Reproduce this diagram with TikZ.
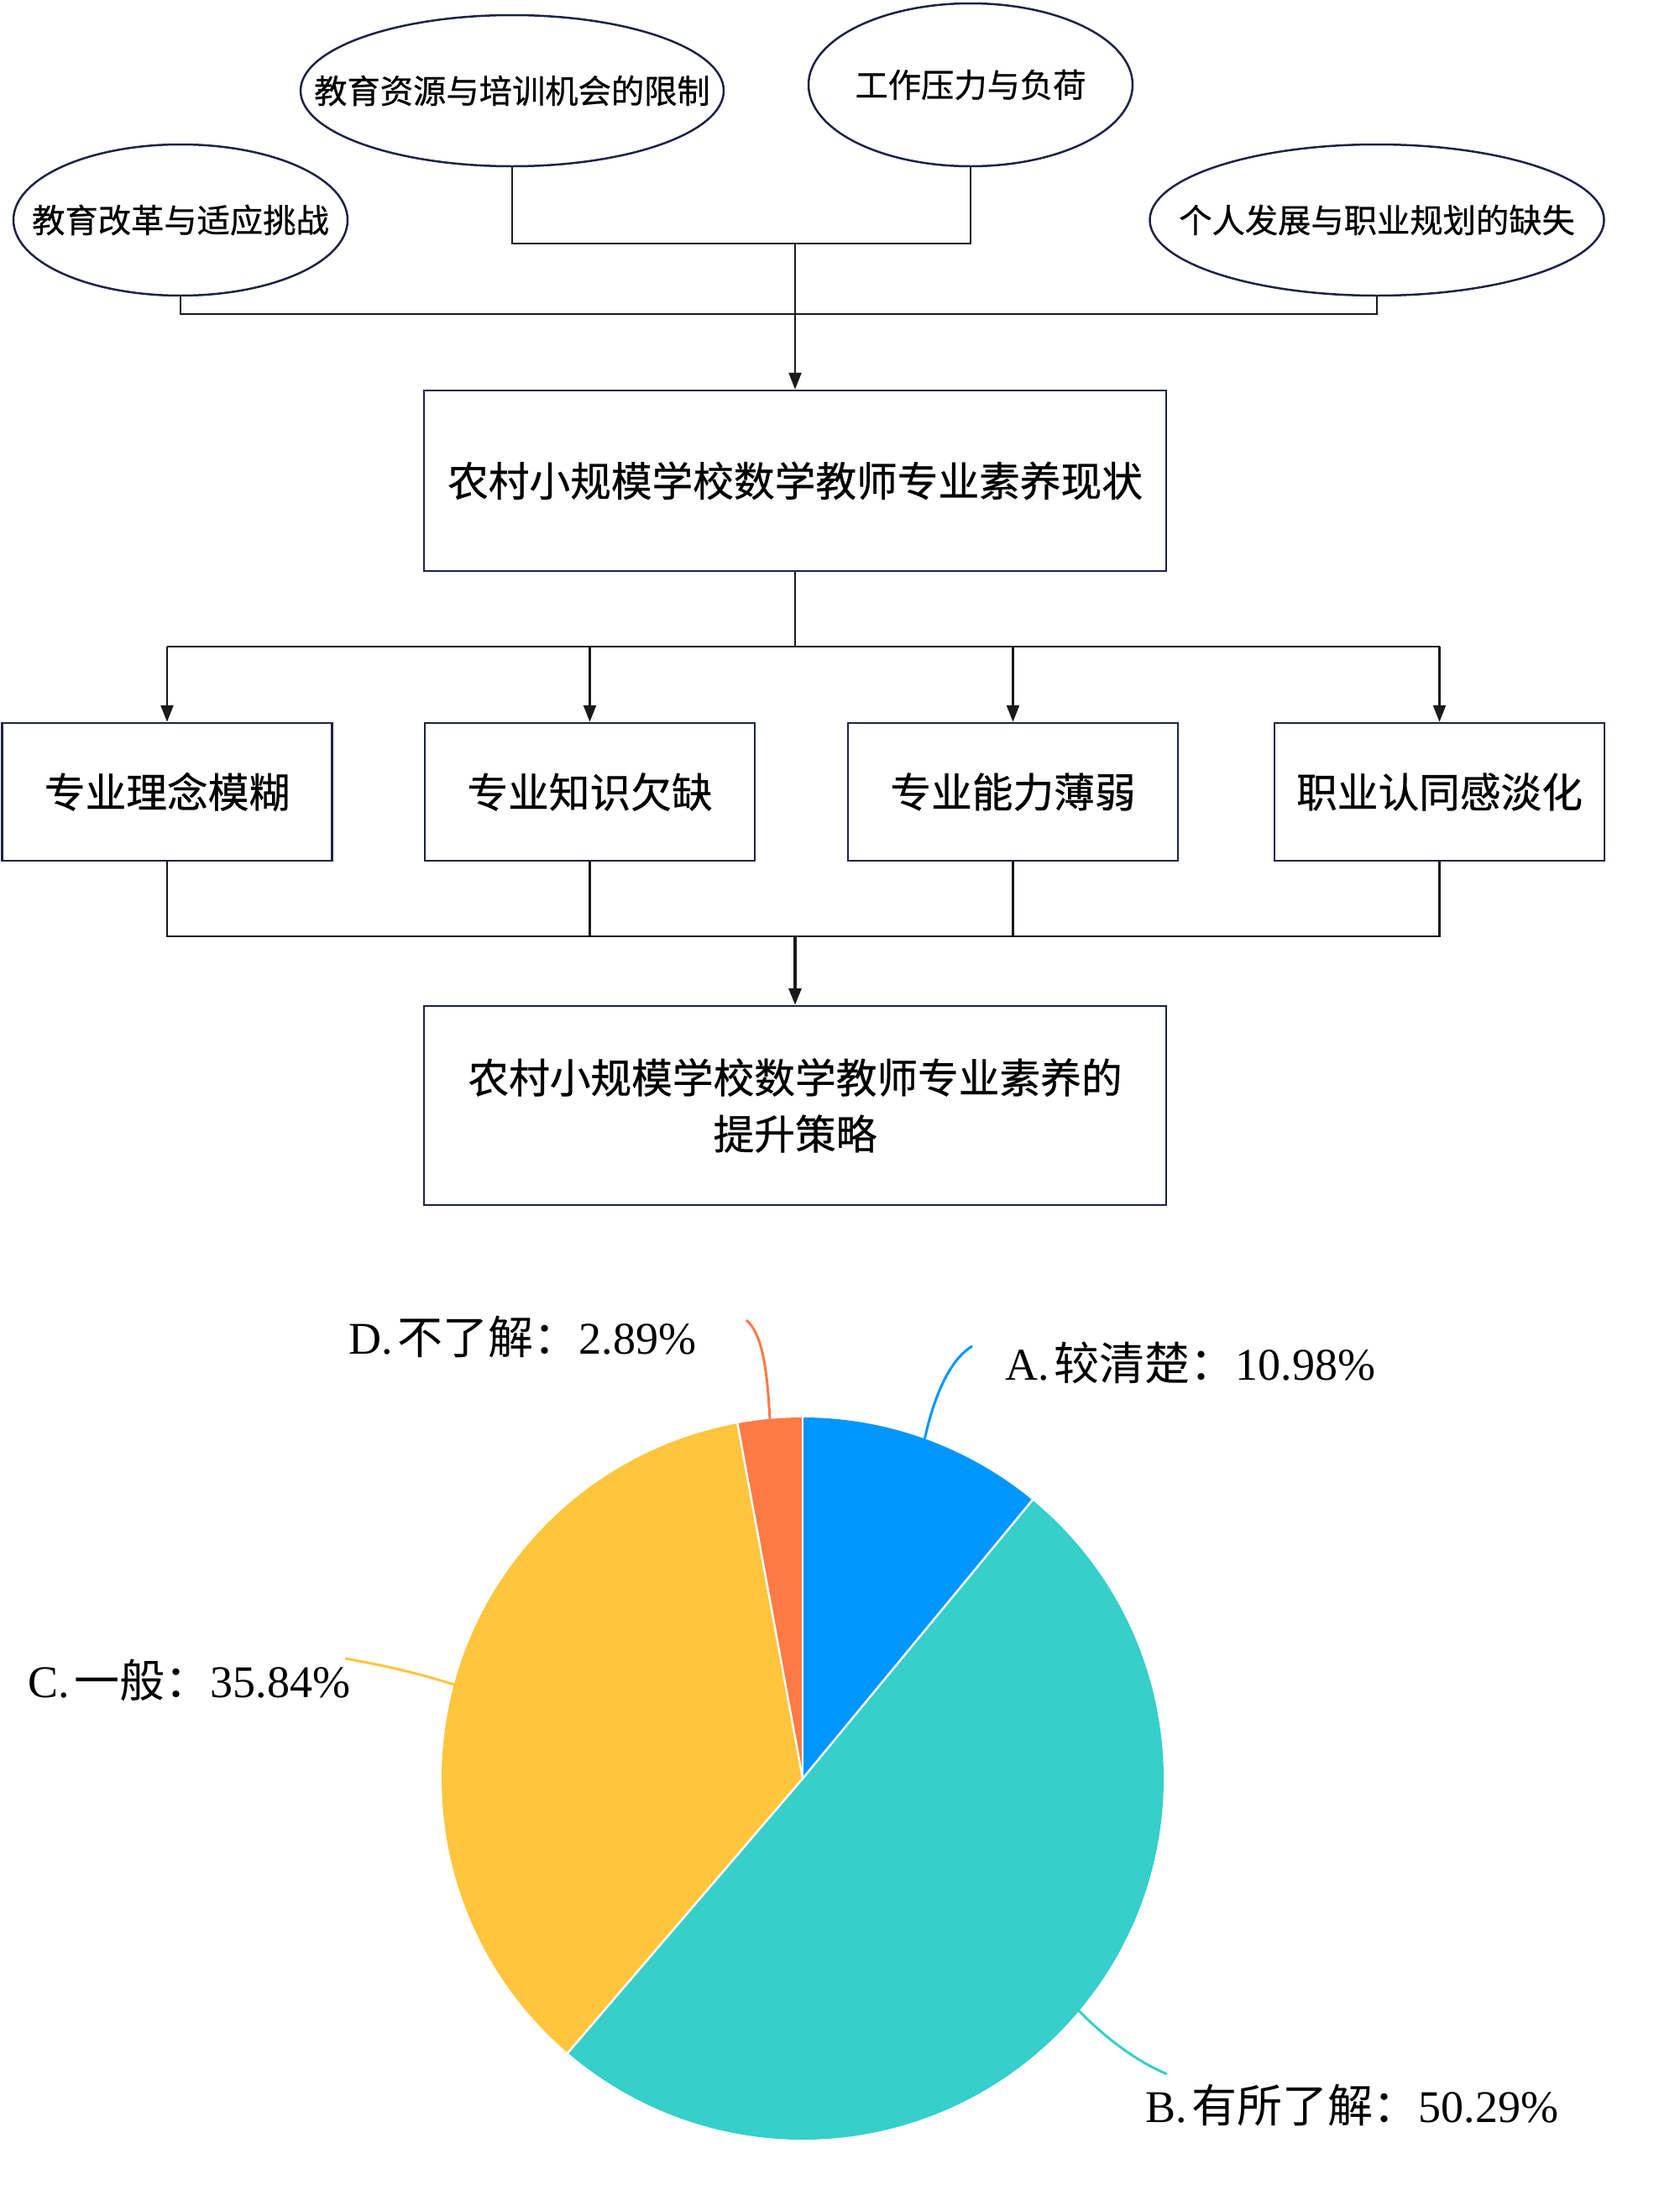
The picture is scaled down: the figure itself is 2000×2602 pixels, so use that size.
\documentclass[tikz,border=0pt]{standalone}
\usepackage{fontspec}
\setmainfont{Liberation Serif}
\newfontfamily\cjk{Noto Sans CJK SC}
\newfontfamily\cjkbox[FakeBold=0.6]{Noto Sans CJK SC}
\usetikzlibrary{shapes.geometric,arrows.meta}
\definecolor{navy}{HTML}{1E2246}
\definecolor{lineblack}{HTML}{1A1A1A}
\definecolor{colA}{HTML}{0096FF}
\definecolor{colB}{HTML}{36CFC9}
\definecolor{colC}{HTML}{FFC53D}
\definecolor{colD}{HTML}{FF7A45}
\begin{document}
\begin{tikzpicture}[x=1pt,y=-1pt,
  ell/.style={ellipse,draw=navy,line width=2.5pt,inner sep=0pt,font=\cjkbox\fontsize{39.3}{45}\selectfont},
  box/.style={rectangle,draw=navy,line width=2.5pt,inner sep=0pt,font=\cjkbox\fontsize{48.7}{67}\selectfont,align=center},
  conn/.style={draw=lineblack,line width=2.5pt},
  arr/.style={conn,-{Triangle[length=20pt,width=15pt]}},
  lbl/.style={anchor=west,inner sep=0pt,font=\fontsize{54}{60}\selectfont},
  leader/.style={line width=3pt}]
\useasboundingbox (0,0) rectangle (2000,2602);
% ellipses
\node[ell,minimum width=398pt,minimum height=180pt] (e1) at (215,262) {\makebox[0pt]{教育改革与适应挑战}};
\node[ell,minimum width=504pt,minimum height=180pt] (e2) at (610,108) {\makebox[0pt]{教育资源与培训机会的限制}};
\node[ell,minimum width=386pt,minimum height=194pt] (e3) at (1156,101) {\makebox[0pt]{工作压力与负荷}};
\node[ell,minimum width=541pt,minimum height=180pt] (e4) at (1640,262) {\makebox[0pt]{个人发展与职业规划的缺失}};
% main boxes
\node[box,minimum width=884pt,minimum height=215pt] (b1) at (947,572.5) {农村小规模学校数学教师专业素养现状};
\node[box,minimum width=393pt,minimum height=164pt] (sa) at (199,943) {专业理念模糊};
\node[box,minimum width=393pt,minimum height=164pt] (sb) at (702.5,943) {专业知识欠缺};
\node[box,minimum width=393pt,minimum height=164pt] (sc) at (1206.5,943) {专业能力薄弱};
\node[box,minimum width=393pt,minimum height=164pt] (sd) at (1714.5,943) {职业认同感淡化};
\node[box,minimum width=884pt,minimum height=237pt] (b2) at (947,1316.5) {农村小规模学校数学教师专业素养的\\提升策略};
% junctions
\coordinate (j1) at (947,290);
\coordinate (j2) at (947,374);
\coordinate (j3) at (947,770);
\coordinate (j4) at (947,1115);
% connectors top
\draw[conn] (e2.south) -- (e2.south |- j1) -- (e3.south |- j1) -- (e3.south);
\draw[conn] (e1.south) -- (e1.south |- j2) -- (e4.south |- j2) -- (e4.south);
\draw[arr] (j1) -- (b1.north);
% connectors middle
\draw[conn] (b1.south) -- (j3);
\draw[conn] (sa.north |- j3) -- (sd.north |- j3);
\draw[arr] (sa.north |- j3) -- (sa.north);
\draw[arr] (sb.north |- j3) -- (sb.north);
\draw[arr] (sc.north |- j3) -- (sc.north);
\draw[arr] (sd.north |- j3) -- (sd.north);
% connectors bottom
\draw[conn] (sa.south) -- (sa.south |- j4) -- (sd.south |- j4) -- (sd.south);
\draw[conn] (sb.south) -- (sb.south |- j4);
\draw[conn] (sc.south) -- (sc.south |- j4);
\draw[arr,line width=3.5pt] (j4) -- (b2.north);
% pie
\begin{scope}[shift={(956,2118)},yscale=-1]
  \fill[colA] (0,0) -- (90:430) arc[start angle=90,end angle=50.472,radius=430] -- cycle;
  \fill[colB] (0,0) -- (50.472:430) arc[start angle=50.472,end angle=-130.572,radius=430] -- cycle;
  \fill[colC] (0,0) -- (-130.572:430) arc[start angle=-130.572,end angle=-259.596,radius=430] -- cycle;
  \fill[colD] (0,0) -- (-259.596:430) arc[start angle=-259.596,end angle=-270,radius=430] -- cycle;
  \draw[white,line width=2.5pt] (0,0) -- (90:431);
  \draw[white,line width=2.5pt] (0,0) -- (50.472:431);
  \draw[white,line width=2.5pt] (0,0) -- (-130.572:431);
  \draw[white,line width=2.5pt] (0,0) -- (-259.596:431);
  \coordinate (pA) at (70.236:430);
  \coordinate (pB) at (-40.05:430);
  \coordinate (pC) at (-195.084:430);
  \coordinate (pD) at (-264.798:430);
\end{scope}
% labels
\node[lbl] (lA) at (1197,1623) {A.\hspace{6pt}{\cjk 较清楚：}10.98\%};
\node[lbl] (lB) at (1364,2507) {B.\hspace{6pt}{\cjk 有所了解：}50.29\%};
\node[lbl] (lC) at (33,2001) {C.\hspace{6pt}{\cjk 一般：}35.84\%};
\node[lbl] (lD) at (415,1592) {D.\hspace{6pt}{\cjk 不了解：}2.89\%};
\coordinate (tA) at (1158,1603);
\coordinate (tB) at (1390,2470);
\coordinate (tC) at (411,1975);
\coordinate (tD) at (889,1572);
\draw[leader,colA] (pA) .. controls (1112,1665) and (1130,1620) .. (tA);
\draw[leader,colB] (pB) .. controls (1320,2430) and (1355,2455) .. (tB);
\draw[leader,colC] (pC) .. controls (490,1990) and (450,1982) .. (tC);
\draw[leader,colD] (pD) .. controls (914,1640) and (910,1590) .. (tD);
\end{tikzpicture}
\end{document}
